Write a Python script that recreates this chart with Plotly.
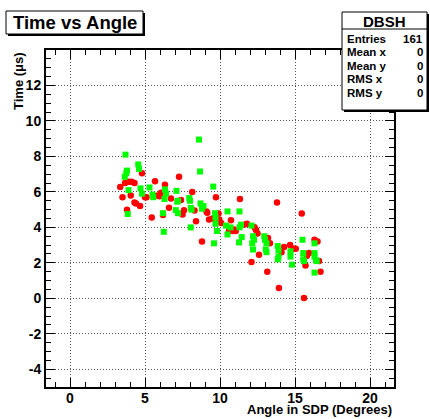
import plotly.graph_objects as go

# ---------------- data ----------------
green_x = [3.7, 4.55, 4.6, 3.8, 3.75, 3.65, 3.9, 4.7, 4.8, 5.3, 5.5, 5.55, 6.3, 6.2, 3.85, 6.25,
           8.6, 8.67, 9.55, 7.1, 6.33, 6.4, 7.15, 7.95, 7.2, 8.0, 8.7, 8.9, 8.8, 8.05, 8.1, 7.05,
           7.2, 9.67, 9.7, 10.5, 11.3, 9.7, 10.4, 10.7, 11.3, 8.05, 9.8, 10.5, 9.6, 11.4, 12.1,
           11.45, 11.27, 12.2, 12.27, 12.15, 12.95, 13.0, 13.1, 12.2, 13.05, 13.1, 13.85, 13.9,
           13.9, 13.85, 14.7, 14.7, 14.8, 15.5, 15.55, 15.55, 15.6, 16.3, 16.3, 16.3, 16.4, 16.45, 16.3]
green_y = [8.1, 7.55, 7.3, 7.2, 7.05, 6.85, 6.1, 6.2, 5.9, 6.25, 5.85, 5.7, 5.6, 4.8, 4.75, 3.75,
           8.95, 7.15, 6.3, 6.06, 6.14, 5.9, 5.45, 5.65, 5.5, 5.5, 5.35, 5.2, 5.05, 5.1, 5.0, 4.97,
           4.8, 4.8, 4.55, 4.9, 4.9, 4.2, 4.1, 4.0, 4.0, 4.0, 3.8, 3.6, 3.1, 4.15, 4.1,
           3.45, 3.15, 3.5, 3.3, 3.1, 3.5, 3.3, 3.1, 2.75, 2.75, 2.6, 2.95, 2.7,
           2.35, 2.2, 2.65, 2.35, 1.9, 3.3, 2.55, 2.2, 2.1, 3.1, 2.55, 2.35, 2.15, 2.1, 1.45]

red_x = [4.8, 5.67, 3.67, 3.9, 4.1, 4.3, 3.35, 3.5, 4.05, 4.3, 4.4, 4.67, 3.8, 5.0, 5.1, 5.45,
         5.85, 5.95, 6.07, 7.27, 6.33, 8.15, 6.73, 7.4, 9.73, 11.33, 6.6, 7.6, 8.3, 9.15, 7.5,
         6.2, 9.9, 9.5, 9.27, 9.95, 8.4, 10.07, 10.73, 10.6, 10.85, 10.93, 8.8, 13.8, 15.45,
         11.8, 11.6, 12.3, 12.4, 12.5, 11.05, 13.2, 13.33, 14.27, 14.67, 14.9, 15.05, 14.1,
         12.6, 15.93, 15.8, 16.3, 16.5, 16.6, 15.7, 12.1, 13.15, 16.7, 13.93, 15.6, 9.1]
red_y = [7.05, 6.6, 6.5, 6.57, 6.57, 6.5, 6.27, 5.7, 5.8, 5.4, 5.35, 5.2, 5.0, 5.7, 5.7, 4.55,
         5.8, 5.75, 5.95, 6.85, 6.4, 6.0, 5.63, 5.55, 5.7, 5.6, 5.1, 4.97, 4.95, 4.83, 4.72,
         4.7, 4.78, 4.5, 4.45, 4.45, 4.35, 4.25, 4.4, 3.8, 3.8, 3.88, 3.2, 5.4, 4.78,
         4.2, 4.15, 4.0, 3.85, 3.65, 3.8, 3.4, 3.1, 2.9, 3.0, 2.8, 2.8, 2.6,
         2.45, 2.55, 2.4, 3.3, 3.2, 2.1, 1.85, 2.05, 1.5, 1.5, 0.58, 0.02, 4.9]

x_ticks = [0, 5, 10, 15, 20]
y_ticks = [-4, -2, 0, 2, 4, 6, 8, 10, 12]

stat_labels = ["Entries", "Mean x", "Mean y", "RMS x", "RMS y"]
stat_values = ["161", "0", "0", "0", "0"]

# ---------------- layout helpers ----------------
W, H = 430, 419
L, R, T, B = 46, 36, 50, 32
PW, PH = W - L - R, H - T - B
FONT = "Liberation Sans, Arial, sans-serif"


def px(x):
    return (x - L) / PW


def py(y):
    return (H - B - y) / PH


fig = go.Figure()
fig.add_trace(go.Scatter(x=red_x, y=red_y, mode="markers",
                         marker=dict(symbol="circle", size=6.5, color="#ff0000", line=dict(width=0)),
                         showlegend=False))
fig.add_trace(go.Scatter(x=green_x, y=green_y, mode="markers",
                         marker=dict(symbol="square", size=6, color="#00ff00", line=dict(width=0)),
                         showlegend=False))

axis_common = dict(
    showline=True, linewidth=2, linecolor="black", mirror="ticks",
    ticks="inside", ticklen=9, tickwidth=1, tickcolor="black",
    showgrid=True, gridcolor="#555555", griddash="1px,2px", gridwidth=1,
    zeroline=False,
    tickfont=dict(family=FONT, size=14, color="black", weight="bold"),
)

fig.update_xaxes(range=[-1.6, 21.6], tickvals=x_ticks, ticktext=[str(v) for v in x_ticks],
                 ticklabelstandoff=-3,
                 minor=dict(dtick=1, tick0=0, ticklen=5, ticks="inside", tickcolor="black", showgrid=False),
                 **axis_common)
fig.update_yaxes(range=[-5, 14], tickvals=y_ticks, ticktext=[str(v) for v in y_ticks],
                 minor=dict(dtick=0.5, tick0=0, ticklen=5, ticks="inside", tickcolor="black", showgrid=False),
                 **axis_common)

shapes = []
annotations = []


def box(x0, y0, x1, y1, shadow=3):
    shapes.append(dict(type="rect", xref="paper", yref="paper",
                       x0=px(x0 + shadow), x1=px(x1 + shadow), y0=py(y1 + shadow), y1=py(y0 + shadow),
                       fillcolor="black", line=dict(width=0), layer="above"))
    shapes.append(dict(type="rect", xref="paper", yref="paper",
                       x0=px(x0), x1=px(x1), y0=py(y1), y1=py(y0),
                       fillcolor="white", line=dict(color="black", width=1), layer="above"))


def text(s, x, y, size, xanchor="left", angle=0, yanchor="middle"):
    annotations.append(dict(text=s, xref="paper", yref="paper", x=px(x), y=py(y),
                            xanchor=xanchor, yanchor=yanchor, showarrow=False, textangle=angle,
                            font=dict(family=FONT, size=size, color="black", weight="bold")))


# title box
box(6, 11, 143, 34, shadow=2)
text("Time vs Angle", 74.5, 22.5, 18.5, xanchor="center")

# stats box
box(342, 12, 427, 110, shadow=2)
shapes.append(dict(type="line", xref="paper", yref="paper", x0=px(342), x1=px(427),
                   y0=py(29), y1=py(29), line=dict(color="black", width=1), layer="above"))
text("DBSH", 384.5, 21, 15, xanchor="center")
row_y = [38.5, 52, 65.5, 79, 92.5]
for lab, val, ry in zip(stat_labels, stat_values, row_y):
    text(lab, 345, ry, 11.5, xanchor="left")
    text(val, 425, ry, 11.5, xanchor="right")

# axis titles
text("Angle in SDP (Degrees)", 394, 419, 13, xanchor="right", yanchor="bottom")
annotations.append(dict(text="Time (\u03bcs)", xref="paper", yref="paper", x=px(18), y=py(50),
                        xanchor="center", yanchor="top", showarrow=False, textangle=-90,
                        font=dict(family=FONT, size=13, color="black", weight="bold")))

fig.update_layout(
    width=W, height=H,
    margin=dict(l=L, r=R, t=T, b=B, pad=0),
    paper_bgcolor="white", plot_bgcolor="white",
    shapes=shapes, annotations=annotations,
    showlegend=False,
)

fig.write_html("out.html")
